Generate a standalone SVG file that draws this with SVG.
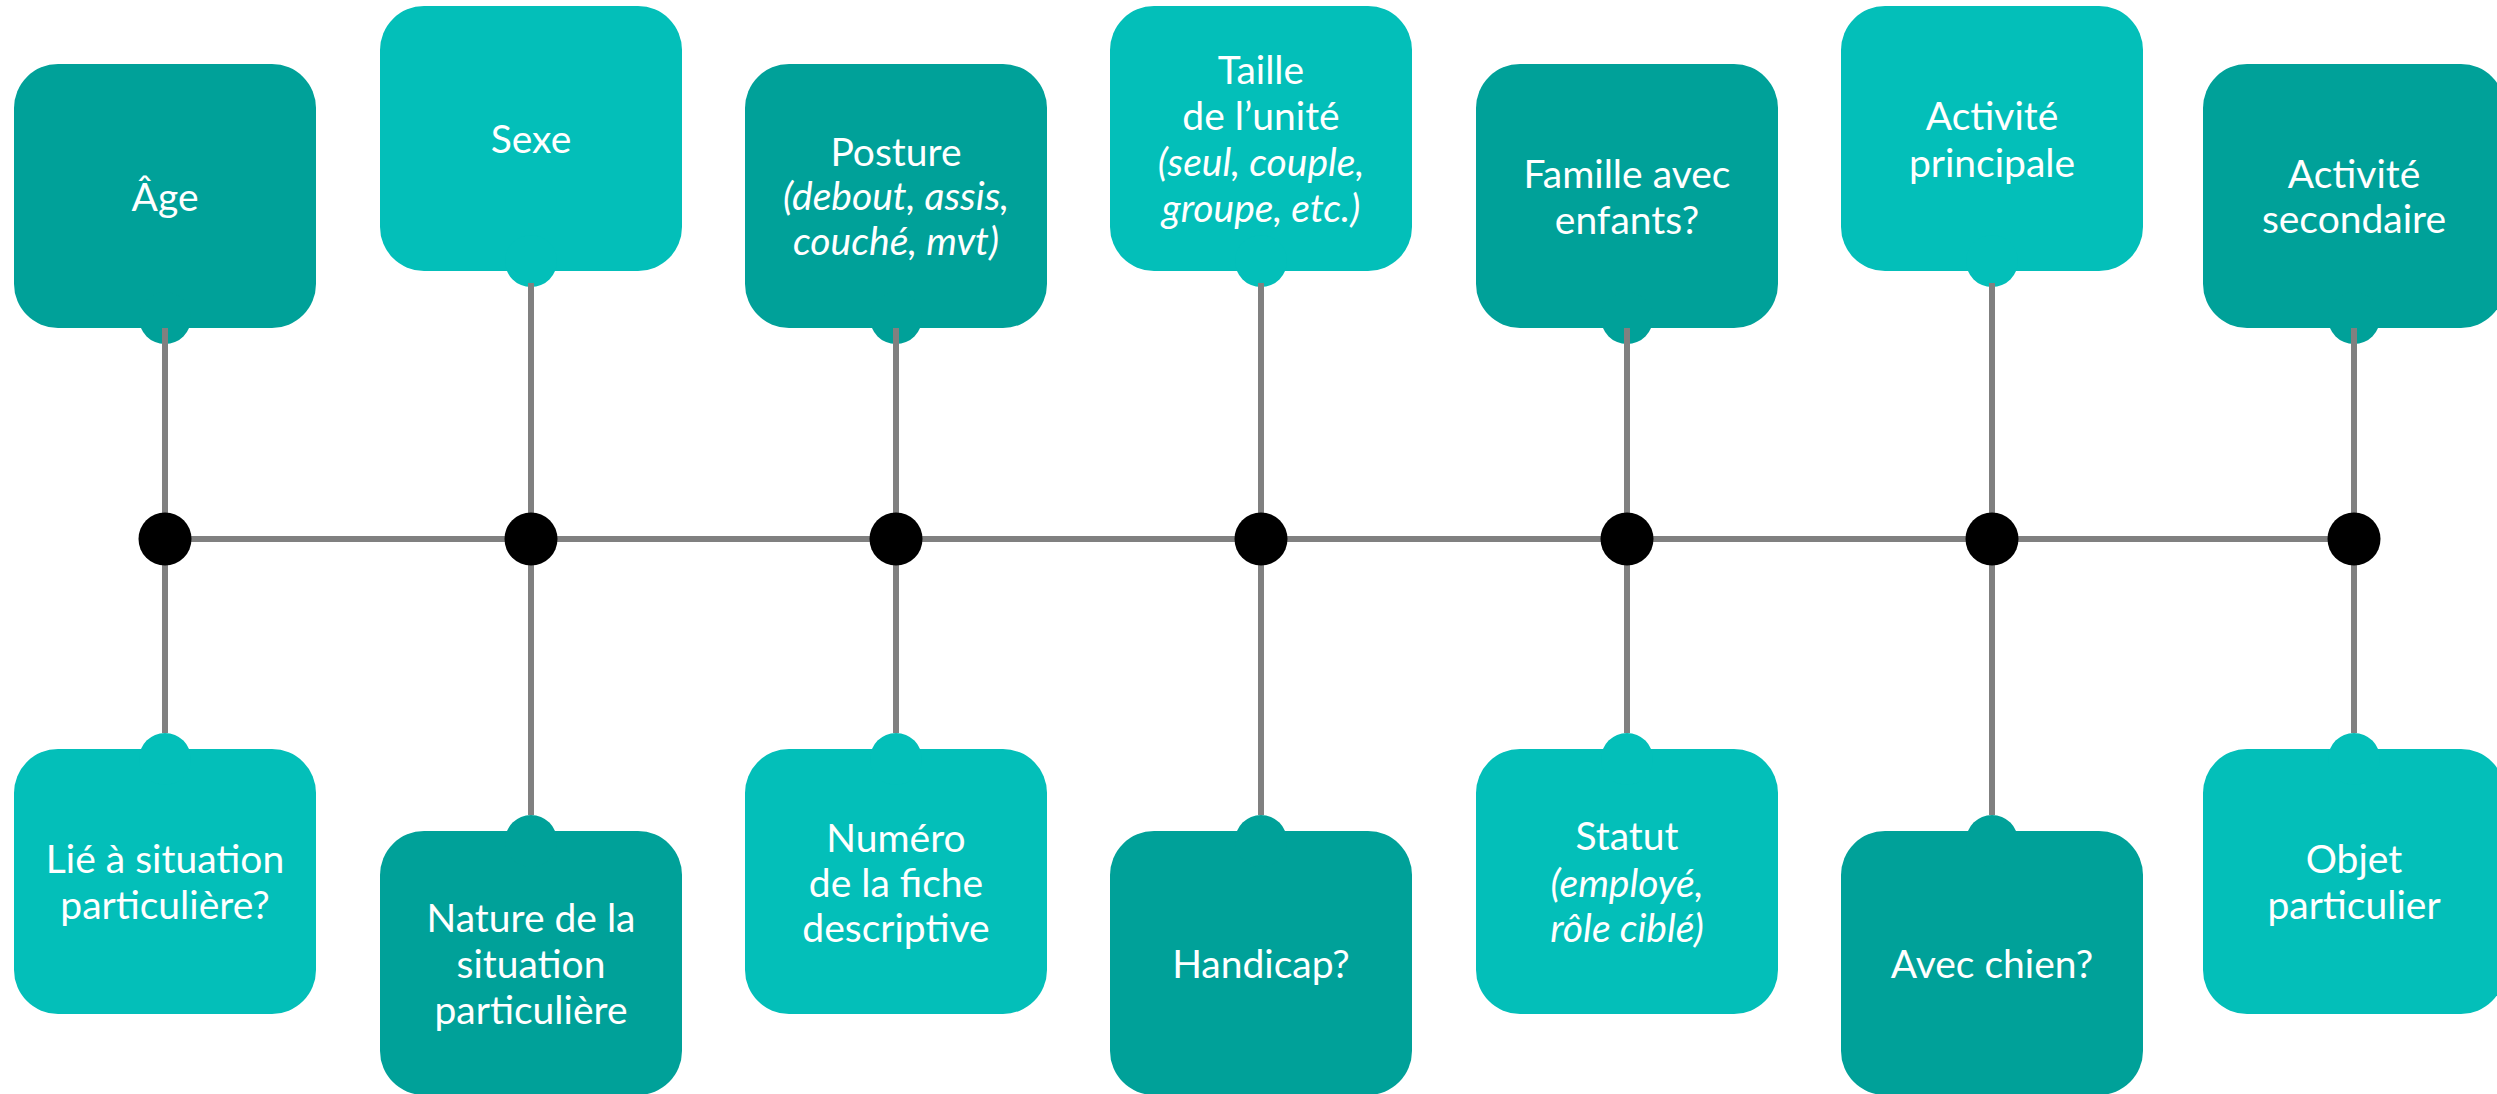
<svg xmlns="http://www.w3.org/2000/svg" width="2497" height="1094" viewBox="0 0 2497 1094">
<style>
.dark{fill:#00A199}
.light{fill:#03BFB9}
.t{font-family:Lato,"Liberation Sans",sans-serif;font-size:39px;font-weight:400;fill:#FFFFFF;text-anchor:middle}
.i{font-style:italic}
.ln{stroke:#808080;stroke-width:6;fill:none}
.dot{fill:#000000}
</style>
<rect width="2497" height="1094" fill="#FFFFFF"/>
<g id="n-age">
<rect class="dark" x="14" y="64" width="302" height="264" rx="44" ry="44"/>
<circle class="dark" cx="165" cy="318" r="26"/>
<text class="t" x="165" y="211">Âge</text>
</g>
<g id="n-sexe">
<rect class="light" x="380" y="6" width="302" height="265" rx="44" ry="44"/>
<circle class="light" cx="531" cy="261" r="26"/>
<text class="t" x="531" y="153">Sexe</text>
</g>
<g id="n-posture">
<rect class="dark" x="745" y="64" width="302" height="264" rx="44" ry="44"/>
<circle class="dark" cx="896" cy="318" r="26"/>
<text class="t"><tspan x="896" y="166">Posture</tspan><tspan class="i" x="896" y="210">(debout, assis,</tspan><tspan class="i" x="896" y="255">couché, mvt)</tspan></text>
</g>
<g id="n-taille">
<rect class="light" x="1110" y="6" width="302" height="265" rx="44" ry="44"/>
<circle class="light" cx="1261" cy="261" r="26"/>
<text class="t"><tspan x="1261" y="84">Taille</tspan><tspan x="1261" y="130">de l’unité</tspan><tspan class="i" x="1261" y="176">(seul, couple,</tspan><tspan class="i" x="1261" y="222">groupe, etc.)</tspan></text>
</g>
<g id="n-famille">
<rect class="dark" x="1476" y="64" width="302" height="264" rx="44" ry="44"/>
<circle class="dark" cx="1627" cy="318" r="26"/>
<text class="t"><tspan x="1627" y="188">Famille avec</tspan><tspan x="1627" y="234">enfants?</tspan></text>
</g>
<g id="n-activite-principale">
<rect class="light" x="1841" y="6" width="302" height="265" rx="44" ry="44"/>
<circle class="light" cx="1992" cy="261" r="26"/>
<text class="t"><tspan x="1992" y="130">Activité</tspan><tspan x="1992" y="177">principale</tspan></text>
</g>
<g id="n-activite-secondaire">
<rect class="dark" x="2203" y="64" width="302" height="264" rx="44" ry="44"/>
<circle class="dark" cx="2354" cy="318" r="26"/>
<text class="t"><tspan x="2354" y="188">Activité</tspan><tspan x="2354" y="233">secondaire</tspan></text>
</g>
<g id="n-lie">
<rect class="light" x="14" y="749" width="302" height="265" rx="44" ry="44"/>
<circle class="light" cx="165" cy="759" r="26"/>
<text class="t"><tspan x="165" y="873">Lié à situation</tspan><tspan x="165" y="919">particulière?</tspan></text>
</g>
<g id="n-nature">
<rect class="dark" x="380" y="831" width="302" height="264" rx="44" ry="44"/>
<circle class="dark" cx="531" cy="841" r="26"/>
<text class="t"><tspan x="531" y="932">Nature de la</tspan><tspan x="531" y="978">situation</tspan><tspan x="531" y="1024">particulière</tspan></text>
</g>
<g id="n-numero">
<rect class="light" x="745" y="749" width="302" height="265" rx="44" ry="44"/>
<circle class="light" cx="896" cy="759" r="26"/>
<text class="t"><tspan x="896" y="852">Numéro</tspan><tspan x="896" y="897">de la fiche</tspan><tspan x="896" y="942">descriptive</tspan></text>
</g>
<g id="n-handicap">
<rect class="dark" x="1110" y="831" width="302" height="264" rx="44" ry="44"/>
<circle class="dark" cx="1261" cy="841" r="26"/>
<text class="t" x="1261" y="978">Handicap?</text>
</g>
<g id="n-statut">
<rect class="light" x="1476" y="749" width="302" height="265" rx="44" ry="44"/>
<circle class="light" cx="1627" cy="759" r="26"/>
<text class="t"><tspan x="1627" y="850">Statut</tspan><tspan class="i" x="1627" y="897">(employé,</tspan><tspan class="i" x="1627" y="942">rôle ciblé)</tspan></text>
</g>
<g id="n-chien">
<rect class="dark" x="1841" y="831" width="302" height="264" rx="44" ry="44"/>
<circle class="dark" cx="1992" cy="841" r="26"/>
<text class="t" x="1992" y="978">Avec chien?</text>
</g>
<g id="n-objet">
<rect class="light" x="2203" y="749" width="302" height="265" rx="44" ry="44"/>
<circle class="light" cx="2354" cy="759" r="26"/>
<text class="t"><tspan x="2354" y="873">Objet</tspan><tspan x="2354" y="919">particulier</tspan></text>
</g>
<g id="connectors">
<path class="ln" d="M165 539 H2354"/>
<path class="ln" d="M165 328 V733"/>
<path class="ln" d="M531 283 V815"/>
<path class="ln" d="M896 328 V733"/>
<path class="ln" d="M1261 283 V815"/>
<path class="ln" d="M1627 328 V733"/>
<path class="ln" d="M1992 283 V815"/>
<path class="ln" d="M2354 328 V733"/>
<circle class="dot" cx="165" cy="539" r="26.5"/>
<circle class="dot" cx="531" cy="539" r="26.5"/>
<circle class="dot" cx="896" cy="539" r="26.5"/>
<circle class="dot" cx="1261" cy="539" r="26.5"/>
<circle class="dot" cx="1627" cy="539" r="26.5"/>
<circle class="dot" cx="1992" cy="539" r="26.5"/>
<circle class="dot" cx="2354" cy="539" r="26.5"/>
</g>
</svg>
